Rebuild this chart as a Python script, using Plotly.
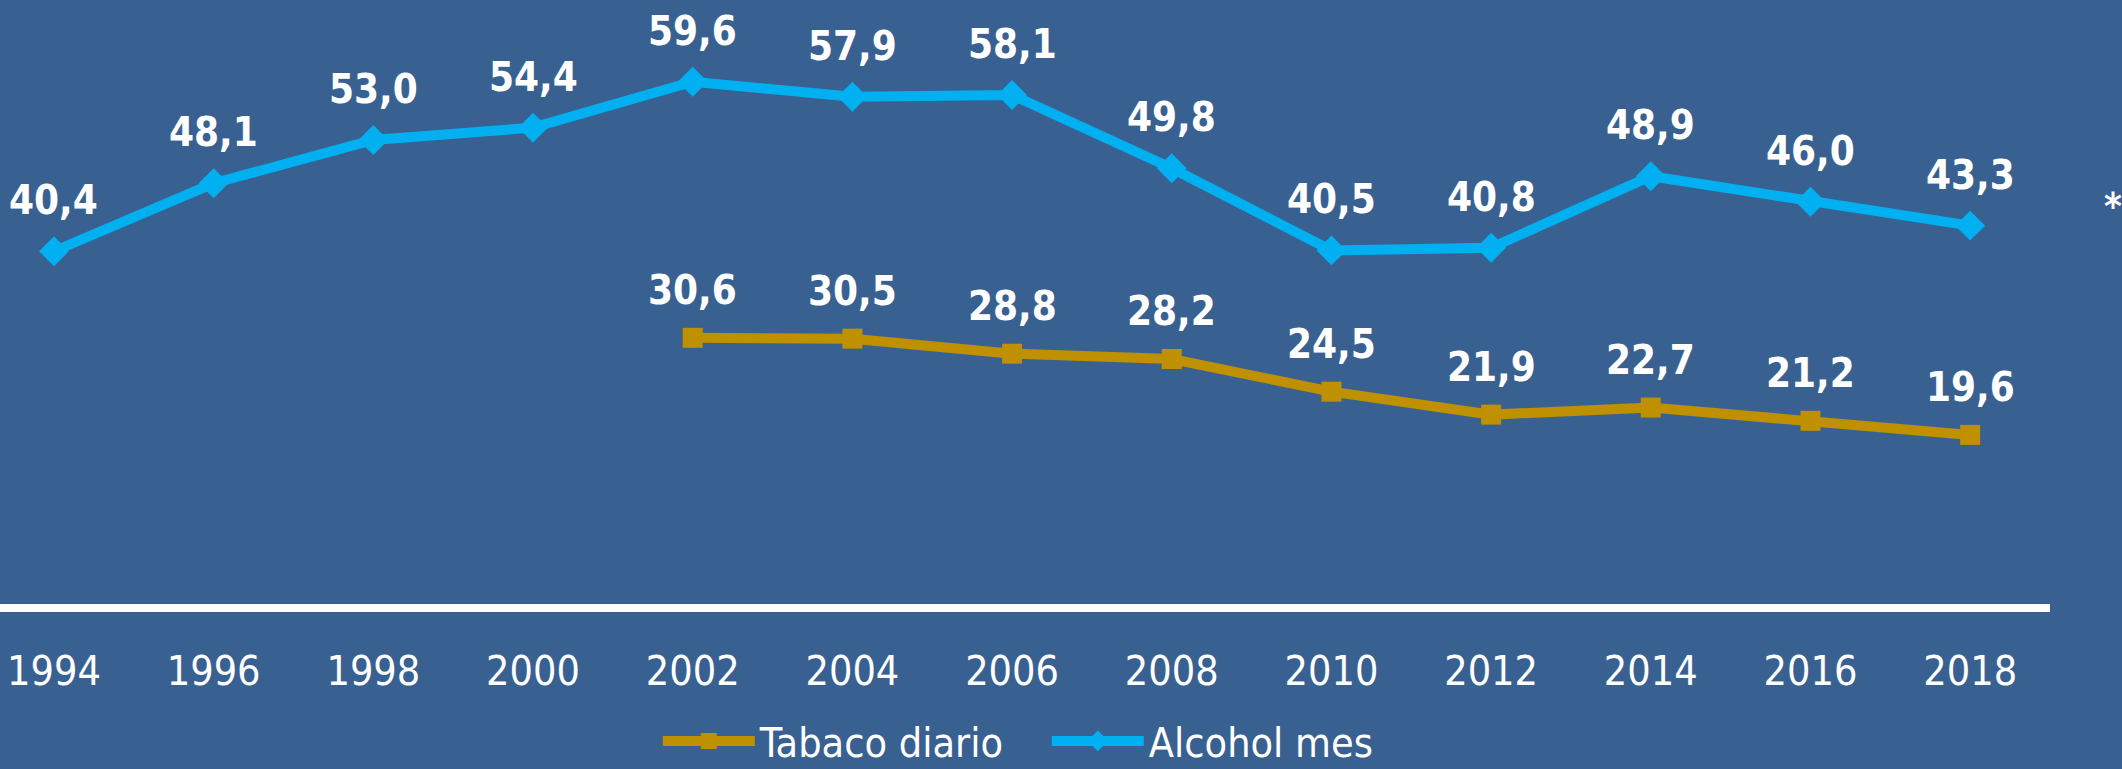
import plotly.graph_objects as go

years = [1994, 1996, 1998, 2000, 2002, 2004, 2006, 2008, 2010, 2012, 2014, 2016, 2018]
alcohol_mes = [40.4, 48.1, 53.0, 54.4, 59.6, 57.9, 58.1, 49.8, 40.5, 40.8, 48.9, 46.0, 43.3]
tabaco_years = [2002, 2004, 2006, 2008, 2010, 2012, 2014, 2016, 2018]
tabaco_diario = [30.6, 30.5, 28.8, 28.2, 24.5, 21.9, 22.7, 21.2, 19.6]
tick_labels = [str(y) for y in years]

BG = "#386192"
BLUE = "#00B0F0"
GOLD = "#BF9000"
FONT = "Liberation Sans Narrow, DejaVu Sans Condensed, Arial Narrow, Open Sans, sans-serif"

def fmt(v):
    return f"{v:.1f}".replace(".", ",")

fig = go.Figure()
fig.add_trace(go.Scatter(
    x=tabaco_years, y=tabaco_diario, name="Tabaco diario", mode="lines+markers",
    line=dict(color=GOLD, width=10),
    marker=dict(symbol="square", size=20, color=GOLD),
))
fig.add_trace(go.Scatter(
    x=years, y=alcohol_mes, name="Alcohol mes", mode="lines+markers",
    line=dict(color=BLUE, width=10),
    marker=dict(symbol="diamond", size=23, color=BLUE),
))

annotations = []
for x, v in zip(years, alcohol_mes):
    annotations.append(dict(x=x, y=v, text=fmt(v), showarrow=False, yshift=51,
                            font=dict(family=FONT, size=40, color="white", weight="bold")))
for x, v in zip(tabaco_years, tabaco_diario):
    annotations.append(dict(x=x, y=v, text=fmt(v), showarrow=False, yshift=48,
                            font=dict(family=FONT, size=40, color="white", weight="bold")))
annotations.append(dict(xref="paper", yref="paper", x=1.036, y=0.715, text="*", showarrow=False,
                        font=dict(family=FONT, size=38, color="white", weight="bold")))

fig.update_layout(
    width=2122, height=769,
    paper_bgcolor=BG, plot_bgcolor=BG,
    margin=dict(l=0, r=72, t=0, b=129, autoexpand=False),
    font=dict(family=FONT, color="white"),
    showlegend=True,
    legend=dict(orientation="h", xref="container", yref="container", x=0.31, y=0.036,
                xanchor="left", yanchor="middle", font=dict(size=41, color="white"),
                bgcolor="rgba(0,0,0,0)", itemwidth=92, entrywidth=282),
    annotations=annotations,
    xaxis=dict(range=[1993.324, 2019.0], tickmode="array", tickvals=years, ticktext=tick_labels,
               showgrid=False, zeroline=False, showline=False, ticks="",
               tickfont=dict(size=41, color="white"), ticklabelstandoff=3,
               ticklabeloverflow="allow"),
    yaxis=dict(range=[-3.624, 68.856], showgrid=False, zeroline=True, zerolinecolor="white",
               zerolinewidth=8, showticklabels=False, showline=False, ticks=""),
)

fig.write_html("out.html", config={"displayModeBar": False},
               post_script="document.body.style.margin='0';document.body.style.background='%s';" % BG)
